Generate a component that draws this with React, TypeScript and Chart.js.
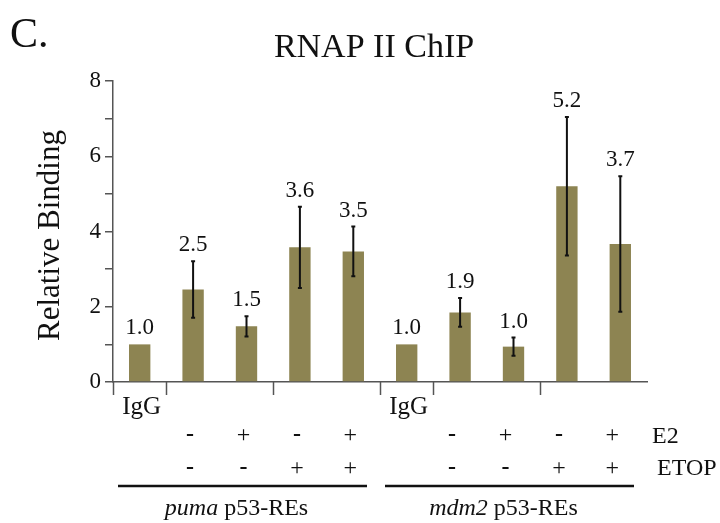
import React, { useEffect, useRef } from 'react';
import { Chart, registerables } from 'chart.js';

Chart.register(...registerables);

const categories = [
  'puma IgG', 'puma E2-/ETOP-', 'puma E2+/ETOP-', 'puma E2-/ETOP+', 'puma E2+/ETOP+',
  'mdm2 IgG', 'mdm2 E2-/ETOP-', 'mdm2 E2+/ETOP-', 'mdm2 E2-/ETOP+', 'mdm2 E2+/ETOP+',
];
const bindingValues = [1.0, 2.46, 1.48, 3.58, 3.47, 1.0, 1.85, 0.94, 5.2, 3.67];
const errorValues = [0, 0.75, 0.27, 1.08, 0.66, 0, 0.38, 0.24, 1.84, 1.8];
const valueLabels = ['1.0', '2.5', '1.5', '3.6', '3.5', '1.0', '1.9', '1.0', '5.2', '3.7'];
const igGLabels = ['IgG', '', '', '', '', 'IgG', '', '', '', ''];
const e2Signs = ['', '-', '+', '-', '+', '', '-', '+', '-', '+'];
const etopSigns = ['', '-', '-', '+', '+', '', '-', '-', '+', '+'];
const rowLabels = ['E2', 'ETOP'];
const groupGenes = ['puma', 'mdm2'];
const groupSuffix = ' p53-REs';
const groupRanges = [[0, 4], [5, 9]];
const dividerAfter = [-1, 0, 2, 4, 5, 7];
const yTicks = [0, 2, 4, 6, 8];
const chartTitle = 'RNAP II ChIP';
const panelLetter = 'C.';
const yAxisTitle = 'Relative Binding';

const SERIF = "'Liberation Serif', 'Times New Roman', serif";
const BAR_COLOR = '#8D8452';
const AXIS_COLOR = '#555';
const TEXT_COLOR = '#111';

const annotationPlugin = {
  id: 'annotations',
  afterDraw(chart: any) {
    const { ctx, chartArea, scales } = chart;
    const x = scales.x;
    const y = scales.y;
    const bottom = chartArea.bottom;
    const step = x.getPixelForValue(1) - x.getPixelForValue(0);
    const boundary = (i: number) => (i < 0 ? chartArea.left : x.getPixelForValue(i) + step / 2);

    ctx.save();

    // panel letter and title
    ctx.fillStyle = TEXT_COLOR;
    ctx.textBaseline = 'alphabetic';
    ctx.font = `42px ${SERIF}`;
    ctx.textAlign = 'left';
    ctx.fillText(panelLetter, 10, 47);
    ctx.font = `34px ${SERIF}`;
    ctx.textAlign = 'center';
    ctx.fillText(chartTitle, 374, 57);

    // y axis title
    ctx.save();
    ctx.translate(59, (chartArea.top + bottom) / 2 + 4);
    ctx.rotate(-Math.PI / 2);
    ctx.font = `31px ${SERIF}`;
    ctx.textAlign = 'center';
    ctx.fillText(yAxisTitle, 0, 0);
    ctx.restore();

    // error bars and value labels
    ctx.strokeStyle = '#111';
    ctx.lineWidth = 2;
    ctx.font = `23px ${SERIF}`;
    ctx.textAlign = 'center';
    bindingValues.forEach((v, i) => {
      const cx = x.getPixelForValue(i);
      const e = errorValues[i];
      let topPx = y.getPixelForValue(v);
      if (e > 0) {
        const t = y.getPixelForValue(v + e);
        const b = y.getPixelForValue(v - e);
        ctx.beginPath();
        ctx.moveTo(cx, t);
        ctx.lineTo(cx, b);
        ctx.moveTo(cx - 2, t);
        ctx.lineTo(cx + 2, t);
        ctx.moveTo(cx - 2, b);
        ctx.lineTo(cx + 2, b);
        ctx.stroke();
        topPx = t;
      }
      ctx.fillText(valueLabels[i], cx, topPx - 10);
    });

    // dividers below the axis
    ctx.strokeStyle = AXIS_COLOR;
    ctx.lineWidth = 1.5;
    dividerAfter.forEach((d) => {
      const px = Math.round(boundary(d)) + 0.5;
      ctx.beginPath();
      ctx.moveTo(px, bottom);
      ctx.lineTo(px, bottom + 13);
      ctx.stroke();
    });

    // IgG labels
    ctx.font = `25px ${SERIF}`;
    ctx.textAlign = 'center';
    igGLabels.forEach((s, i) => {
      if (s) ctx.fillText(s, x.getPixelForValue(i) + 2, bottom + 32);
    });

    // sign rows
    const rows = [e2Signs, etopSigns];
    const rowBase = [bottom + 60, bottom + 93];
    rows.forEach((row, r) => {
      row.forEach((s, i) => {
        if (!s) return;
        const off = i < 5 ? -3 : -8;
        ctx.font = s === '-' ? `bold 24px ${SERIF}` : `24px ${SERIF}`;
        ctx.fillText(s, x.getPixelForValue(i) + off, rowBase[r] - (s === '-' ? 1 : 0));
      });
    });
    ctx.font = `24px ${SERIF}`;
    ctx.textAlign = 'left';
    ctx.fillText(rowLabels[0], chartArea.right + 5, rowBase[0] + 1);
    ctx.fillText(rowLabels[1], chartArea.right + 10, rowBase[1]);

    // group lines and names
    groupRanges.forEach(([a, b], g) => {
      const x0 = boundary(a - 1) + 5;
      const x1 = boundary(b) - 13;
      ctx.strokeStyle = '#111';
      ctx.lineWidth = 2.5;
      ctx.beginPath();
      ctx.moveTo(x0, bottom + 104);
      ctx.lineTo(x1, bottom + 104);
      ctx.stroke();
      const center = (x0 + x1) / 2 - 6;
      ctx.font = `italic 24px ${SERIF}`;
      const w1 = ctx.measureText(groupGenes[g]).width;
      ctx.font = `24px ${SERIF}`;
      const w2 = ctx.measureText(groupSuffix).width;
      const start = center - (w1 + w2) / 2;
      ctx.textAlign = 'left';
      ctx.font = `italic 24px ${SERIF}`;
      ctx.fillText(groupGenes[g], start, bottom + 133);
      ctx.font = `24px ${SERIF}`;
      ctx.fillText(groupSuffix, start + w1, bottom + 133);
    });

    ctx.restore();
  },
};

export default function App() {
  const ref = useRef<HTMLCanvasElement | null>(null);

  useEffect(() => {
    if (!ref.current) return;
    const chart = new Chart(ref.current, {
      type: 'bar',
      data: {
        labels: categories,
        datasets: [
          {
            data: bindingValues,
            backgroundColor: BAR_COLOR,
            borderWidth: 0,
            barPercentage: 0.4,
            categoryPercentage: 1,
          },
        ],
      },
      options: {
        responsive: false,
        animation: false,
        devicePixelRatio: 1,
        layout: { padding: { left: 31, top: 81, right: 73, bottom: 141 } },
        plugins: { legend: { display: false }, tooltip: { enabled: false }, title: { display: false } },
        scales: {
          x: {
            type: 'category',
            offset: true,
            grid: { display: false },
            ticks: { display: false },
            border: { display: true, color: AXIS_COLOR, width: 1.5 },
            afterFit: (s: any) => {
              s.height = 0;
            },
          },
          y: {
            min: 0,
            max: 8,
            ticks: {
              stepSize: 1,
              color: TEXT_COLOR,
              font: { family: SERIF, size: 23 },
              padding: 4,
              callback: (v: any) => (yTicks.includes(Number(v)) ? String(v) : ''),
            },
            grid: {
              display: true,
              drawOnChartArea: false,
              drawTicks: true,
              tickLength: 8,
              color: AXIS_COLOR,
              lineWidth: 1.5,
            },
            border: { display: true, color: AXIS_COLOR, width: 1.5 },
            title: { display: false },
            afterFit: (s: any) => {
              s.width = 82;
            },
          },
        },
      },
      plugins: [annotationPlugin],
    });
    return () => chart.destroy();
  }, []);

  return (
    <div style={{ position: 'absolute', left: 0, top: 0, width: 720, height: 523, background: '#fff' }}>
      <canvas ref={ref} width={720} height={523} style={{ display: 'block' }} />
    </div>
  );
}
